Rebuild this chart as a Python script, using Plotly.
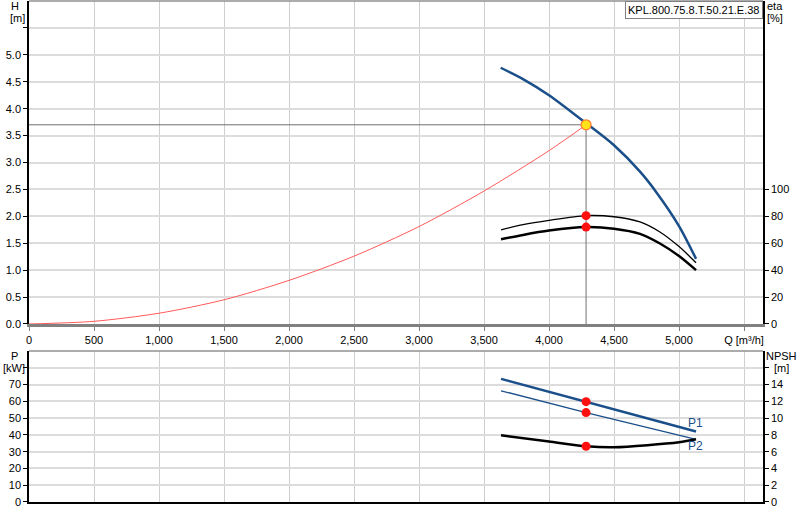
import plotly.graph_objects as go

# ---- data ----
q_h = [3628, 3800, 4000, 4285, 4500, 4700, 4828, 5000, 5131]
h_vals = [4.76, 4.55, 4.25, 3.73, 3.32, 2.83, 2.44, 1.82, 1.21]

q_sys = [0, 500, 1000, 1500, 2000, 2500, 3000, 3500, 4000, 4285]
h_sys = [0, 0.05, 0.20, 0.45, 0.81, 1.26, 1.81, 2.47, 3.22, 3.70]

q_eta = [3631, 3800, 4000, 4285, 4500, 4700, 4850, 5000, 5131]
eta_thin = [70, 73.8, 77, 80.5, 79.7, 75.8, 68.5, 57.5, 45.5]
eta_thick = [63, 66.2, 69.4, 72, 70.8, 67, 60, 50.5, 40]

q_p = [3631, 4285, 5131]
p1_vals = [73.4, 59.8, 42.0]
p2_vals = [66.3, 53.3, 37.3]

q_npsh = [3631, 4000, 4285, 4500, 5000, 5131]
npsh_vals = [7.95, 7.2, 6.64, 6.52, 7.12, 7.47]

q_op = 4285
h_op = 3.70
eta_op_thin = 80.5
eta_op_thick = 72
p1_op = 59.8
p2_op = 53.3
npsh_op = 6.64

x_ticks = [0, 500, 1000, 1500, 2000, 2500, 3000, 3500, 4000, 4500, 5000, 5500]
x_ticktext = ["0", "500", "1,000", "1,500", "2,000", "2,500", "3,000", "3,500",
              "4,000", "4,500", "5,000", "Q [m³/h]"]
h_ticks = [0, 0.5, 1.0, 1.5, 2.0, 2.5, 3.0, 3.5, 4.0, 4.5, 5.0, 5.5]
h_ticktext = ["0.0", "0.5", "1.0", "1.5", "2.0", "2.5", "3.0", "3.5", "4.0", "4.5", "5.0", ""]
eta_ticks = [0, 20, 40, 60, 80, 100]
p_ticks = [0, 10, 20, 30, 40, 50, 60, 70, 80]
p_ticktext = ["0", "10", "20", "30", "40", "50", "60", "70", ""]
npsh_ticks = [0, 2, 4, 6, 8, 10, 12, 14, 16]
npsh_ticktext = ["0", "2", "4", "6", "8", "10", "12", "14", ""]

model_name = "KPL.800.75.8.T.50.21.E.38"

BLUE = "#1b4f8a"
FONT = "Liberation Sans, Arial, sans-serif"
SM = 0.8

fig = go.Figure()

# operating point guide lines
fig.add_trace(go.Scatter(x=[0, q_op], y=[h_op, h_op], mode="lines",
                         line=dict(color="#707070", width=1), xaxis="x", yaxis="y", hoverinfo="skip"))
fig.add_trace(go.Scatter(x=[q_op, q_op], y=[0, h_op], mode="lines",
                         line=dict(color="#707070", width=1), xaxis="x", yaxis="y", hoverinfo="skip"))

# system curve
fig.add_trace(go.Scatter(x=q_sys, y=h_sys, mode="lines",
                         line=dict(color="#ff5a5a", width=1, shape="spline", smoothing=SM),
                         xaxis="x", yaxis="y"))
# pump H curve
fig.add_trace(go.Scatter(x=q_h, y=h_vals, mode="lines",
                         line=dict(color=BLUE, width=2.5, shape="spline", smoothing=SM),
                         xaxis="x", yaxis="y"))
# efficiency curves
fig.add_trace(go.Scatter(x=q_eta, y=eta_thin, mode="lines",
                         line=dict(color="black", width=1.3, shape="spline", smoothing=SM),
                         xaxis="x", yaxis="y2"))
fig.add_trace(go.Scatter(x=q_eta, y=eta_thick, mode="lines",
                         line=dict(color="black", width=2.5, shape="spline", smoothing=SM),
                         xaxis="x", yaxis="y2"))
fig.add_trace(go.Scatter(x=[q_op, q_op], y=[eta_op_thin, eta_op_thick], mode="markers",
                         marker=dict(color="#ff1010", size=9), xaxis="x", yaxis="y2"))
# operating point
fig.add_trace(go.Scatter(x=[q_op], y=[h_op], mode="markers",
                         marker=dict(color="#ffe21a", size=10, line=dict(color="#ff7a30", width=1.2)),
                         xaxis="x", yaxis="y"))

# bottom panel
fig.add_trace(go.Scatter(x=q_p, y=p1_vals, mode="lines", line=dict(color=BLUE, width=2.5),
                         xaxis="x2", yaxis="y3"))
fig.add_trace(go.Scatter(x=q_p, y=p2_vals, mode="lines", line=dict(color=BLUE, width=1.3),
                         xaxis="x2", yaxis="y3"))
fig.add_trace(go.Scatter(x=q_npsh, y=npsh_vals, mode="lines",
                         line=dict(color="black", width=2.5, shape="spline", smoothing=SM),
                         xaxis="x2", yaxis="y4"))
fig.add_trace(go.Scatter(x=[q_op, q_op], y=[p1_op, p2_op], mode="markers",
                         marker=dict(color="#ff1010", size=9), xaxis="x2", yaxis="y3"))
fig.add_trace(go.Scatter(x=[q_op], y=[npsh_op], mode="markers",
                         marker=dict(color="#ff1010", size=9), xaxis="x2", yaxis="y4"))

tickfont = dict(family=FONT, size=11, color="black")
XR = [0, 5646]
top_dom = [0.3553, 1.0]
bot_dom = [0.0, 0.3014]

fig.update_layout(
    width=800, height=520,
    margin=dict(l=29, r=37, t=1, b=18, autoexpand=False),
    paper_bgcolor="white", plot_bgcolor="white",
    showlegend=False,
    font=dict(family=FONT, size=11, color="black"),
    xaxis=dict(domain=[0, 1], anchor="y", range=XR, tickvals=x_ticks, ticktext=x_ticktext,
               showgrid=True, gridcolor="#cfcfcf", gridwidth=1, zeroline=False, automargin=False,
               showline=True, linecolor="#808080", linewidth=2.5, mirror=False,
               ticks="outside", ticklen=4, tickcolor="#808080", tickfont=tickfont),
    yaxis=dict(domain=top_dom, anchor="x", range=[0, 6], tickvals=h_ticks, ticktext=h_ticktext,
               showgrid=True, gridcolor="#dcdcdc", gridwidth=1.5, zeroline=False, automargin=False,
               showline=True, linecolor="black", linewidth=1.5,
               ticks="outside", ticklen=4, tickcolor="black", tickfont=tickfont),
    yaxis2=dict(overlaying="y", side="right", anchor="x", range=[0, 240], tickvals=eta_ticks,
                showgrid=False, zeroline=False, showline=True, linecolor="black", linewidth=1.5,
                automargin=False,
                ticks="outside", ticklen=4, tickcolor="black", tickfont=tickfont),
    xaxis2=dict(domain=[0, 1], anchor="y3", range=XR, tickvals=x_ticks, showticklabels=False,
                showgrid=True, gridcolor="#cfcfcf", gridwidth=1, zeroline=False, automargin=False,
                showline=True, linecolor="black", linewidth=1.5, ticks=""),
    yaxis3=dict(domain=bot_dom, anchor="x2", range=[0, 90], tickvals=p_ticks, ticktext=p_ticktext,
                showgrid=True, gridcolor="#dcdcdc", gridwidth=1.5, zeroline=False, automargin=False,
                showline=True, linecolor="black", linewidth=1.5,
                ticks="outside", ticklen=4, tickcolor="black", tickfont=tickfont),
    yaxis4=dict(overlaying="y3", side="right", anchor="x2", range=[0, 18], tickvals=npsh_ticks,
                ticktext=npsh_ticktext, showgrid=False, zeroline=False, automargin=False,
                showline=True, linecolor="black", linewidth=1.5,
                ticks="outside", ticklen=4, tickcolor="black", tickfont=tickfont),
)

# top borders of panels (gray)
fig.add_shape(type="line", xref="paper", yref="paper", x0=0, x1=1, y0=top_dom[1], y1=top_dom[1],
              line=dict(color="#909090", width=1.5))
fig.add_shape(type="line", xref="paper", yref="paper", x0=0, x1=1, y0=bot_dom[1], y1=bot_dom[1],
              line=dict(color="#909090", width=1.5))


def px_x(px):
    return (px - 29) / 734.0


def px_y(py):
    return (502 - py) / 501.0


labels = [
    ("H", 15, 6), ("[m]", 17, 18),
    ("eta", 775, 6), ("[%]", 775, 18),
    ("P", 14, 356), ("[kW]", 14, 368),
    ("NPSH", 781, 356), ("[m]", 781, 368),
]
for txt, lx, ly in labels:
    fig.add_annotation(text=txt, xref="paper", yref="paper", x=px_x(lx), y=px_y(ly),
                       xanchor="center", yanchor="middle", showarrow=False,
                       font=dict(size=11, family=FONT, color="black"))

fig.add_annotation(text="P1", xref="x2", yref="y3", x=5123, y=47.3, xanchor="center", yanchor="middle",
                   showarrow=False, font=dict(color=BLUE, size=12, family=FONT))
fig.add_annotation(text="P2", xref="x2", yref="y3", x=5123, y=33.1, xanchor="center", yanchor="middle",
                   showarrow=False, font=dict(color=BLUE, size=12, family=FONT))
fig.add_annotation(text=model_name, xref="paper", yref="paper", x=1.0, y=1.0, xanchor="right", yanchor="top",
                   showarrow=False, bordercolor="#808080", borderwidth=1, borderpad=2, bgcolor="white",
                   font=dict(size=11, family=FONT, color="black"))

fig.write_html("out.html", config={"displayModeBar": False},
               post_script="document.body.style.margin='0px';")
